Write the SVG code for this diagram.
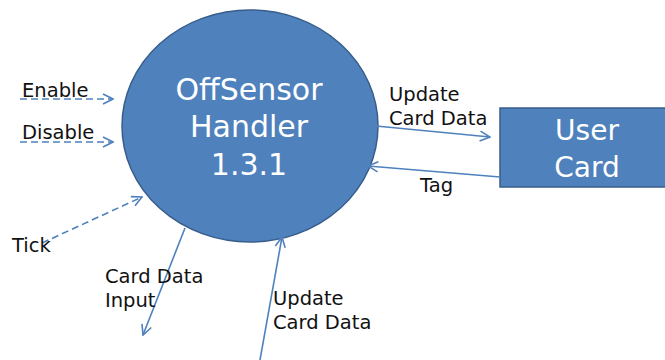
<svg xmlns="http://www.w3.org/2000/svg" width="665" height="360" viewBox="0 0 665 360">
<style>
.lbl{font-family:"DejaVu Sans","Liberation Sans",sans-serif;font-size:19.5px;fill:#111}
.wt{font-family:"DejaVu Sans","Liberation Sans",sans-serif;fill:#fff;text-anchor:middle}
.ln{stroke:#4F81BD;stroke-width:1.6;fill:none}
.dash{stroke-dasharray:7,4}
.node{fill:#4F81BD;stroke:#385D8A;stroke-width:1.5}
</style>
<defs>
<marker id="ah" viewBox="0 0 12 12" refX="11" refY="6" markerWidth="12" markerHeight="12" markerUnits="userSpaceOnUse" orient="auto">
<path d="M1,1 L11,6 L1,11" fill="none" stroke="#4F81BD" stroke-width="1.6"/>
</marker>
</defs>
<g id="handler">
<ellipse class="node" cx="250" cy="126" rx="128" ry="116"/>
<text class="wt" font-size="30" x="249" y="100">OffSensor</text>
<text class="wt" font-size="30" x="249" y="137">Handler</text>
<text class="wt" font-size="30" x="249" y="175">1.3.1</text>
</g>
<g id="usercard">
<rect class="node" x="500" y="108" width="170" height="79"/>
<text class="wt" font-size="28" x="587" y="140">User</text>
<text class="wt" font-size="28" x="587" y="177">Card</text>
</g>
<g id="connectors">
<line class="ln dash" x1="20" y1="99" x2="113" y2="99" marker-end="url(#ah)"/>
<line class="ln dash" x1="20" y1="142" x2="113" y2="142" marker-end="url(#ah)"/>
<line class="ln dash" x1="42" y1="243" x2="142" y2="197" marker-end="url(#ah)"/>
<line class="ln" x1="185" y1="228" x2="143" y2="335" marker-end="url(#ah)"/>
<line class="ln" x1="260" y1="360" x2="282" y2="237" marker-end="url(#ah)"/>
<line class="ln" x1="376" y1="126" x2="490" y2="137" marker-end="url(#ah)"/>
<line class="ln" x1="500" y1="177" x2="368" y2="166" marker-end="url(#ah)"/>
</g>
<g id="labels">
<text class="lbl" x="22" y="97">Enable</text>
<text class="lbl" x="22" y="139">Disable</text>
<text class="lbl" x="12" y="252">Tick</text>
<text class="lbl" x="105" y="283">Card Data</text>
<text class="lbl" x="105" y="307">Input</text>
<text class="lbl" x="273" y="305">Update</text>
<text class="lbl" x="273" y="329">Card Data</text>
<text class="lbl" x="389" y="101">Update</text>
<text class="lbl" x="389" y="125">Card Data</text>
<text class="lbl" x="420" y="192">Tag</text>
</g>
</svg>
